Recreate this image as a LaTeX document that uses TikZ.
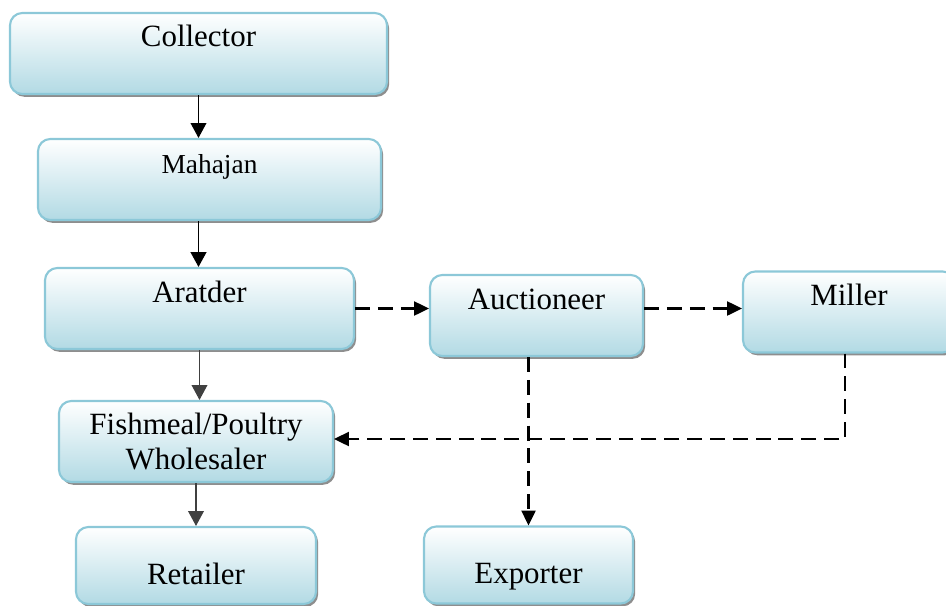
\documentclass[tikz,border=0pt]{standalone}
\usepackage{fontspec}
\setmainfont{Liberation Serif}
\usepackage{tikz}
\usetikzlibrary{arrows.meta, positioning, shadows, calc}
\usepackage{xcolor}
\definecolor{chainEdge} {HTML}{8CC8D8}
\definecolor{chainFill} {HTML}{B2DAE4}
\definecolor{chainShade}{HTML}{8E8E8E}
\tikzset{
  stage/.style = {rectangle, rounded corners=7pt, draw=chainEdge, line width=1.2pt,
                  top color=white, bottom color=chainFill, inner sep=0pt,
                  minimum height=1.62cm, align=center,
                  font=\fontsize{17.6pt}{20pt}\selectfont,
                  drop shadow={shadow xshift=1.2pt, shadow yshift=-1.6pt,
                               fill=chainShade, opacity=1}},
  flow/.style  = {-{Triangle[length=8.5pt, width=9pt]}, line width=0.6pt, color=black},
  dflow/.style = {-{Triangle[length=8.5pt, width=8pt]}, line width=1.3pt,
                  dash pattern=on 8.5pt off 4.5pt, color=black},
}

\begin{document}
\begin{tikzpicture}[
  uptext/.style={text height=0.68cm, text depth=0.94cm},
  lowtext/.style={text height=1.14cm, text depth=0.40cm, minimum height=1.54cm},
]
\useasboundingbox (0,0) rectangle (18.92,-12.10);

% Stages
\node[stage, uptext, minimum width=7.54cm] (coll) at (3.97,-1.07)  {Collector};
\node[stage, uptext, minimum width=6.86cm,
      font=\fontsize{15.6pt}{18pt}\selectfont] (mah) at (4.19,-3.59) {Mahajan};
\node[stage, uptext, minimum width=6.18cm] (ara)  at (3.99,-6.17)  {Aratder};
\node[stage, uptext, minimum width=4.26cm] (auc)  at (10.73,-6.31) {Auctioneer};
\node[stage, uptext, minimum width=4.24cm, minimum height=1.60cm]
      (mil)  at (16.98,-6.24) {Miller};
\node[stage, minimum width=5.48cm] (fish) at (3.92,-8.83) {Fishmeal/Poultry\\Wholesaler};
\node[stage, lowtext, minimum width=4.80cm] (ret) at (3.92,-11.31) {Retailer};
\node[stage, lowtext, minimum width=4.18cm] (exp) at (10.57,-11.30) {Exporter};

% Turning point of the miller line
\coordinate (mbend) at (16.90,-8.78);

% Main chain
\draw[flow] (coll.south) -- (coll.south |- mah.north);
\draw[flow, line width=1.1pt] (mah.south -| coll.south) -- (coll.south |- ara.north);
\draw[flow, color=black!75] (ara.south) -- (ara.south |- fish.north);
\draw[flow, color=black!75] (fish.south) -- (fish.south |- ret.north);

% Side chain
\draw[dflow] (ara.east) -- (ara.east -| auc.west);
\draw[dflow] (auc.east |- ara.east) -- (mil.west |- ara.east);
\draw[dflow] (auc.south -| exp.north) -- (exp.north);
\draw[dflow] (mil.south -| mbend) -- (mbend) -- (mbend -| fish.east);

\end{tikzpicture}
\end{document}
